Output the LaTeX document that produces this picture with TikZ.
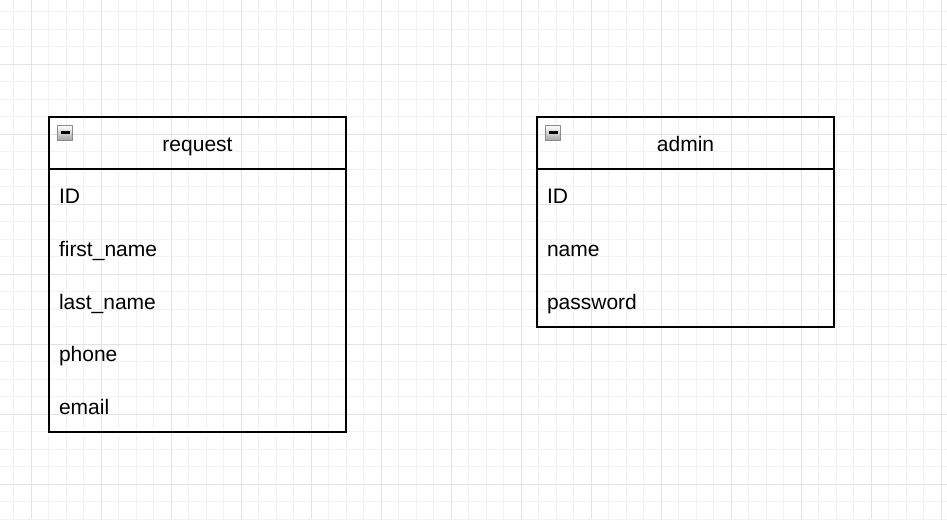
\documentclass[tikz,border=0pt]{standalone}
\usepackage{fontspec}
\setmainfont{Liberation Sans}
\usetikzlibrary{positioning}

\begin{document}
\begin{tikzpicture}[x=0.75pt,y=-0.75pt]
  \tikzset{minorline/.style={draw=black!5, line width=0.75pt},
    majorline/.style={draw=black!11, line width=0.75pt},
    tablefont/.style={font=\fontsize{15.75}{18}\selectfont, text height=14.75pt, text depth=2.15pt},
    tablehead/.style={tablefont, draw, line width=1.3pt, outer sep=0pt, inner sep=0pt, minimum width=222.75pt, minimum height=39.4pt},
    tablefield/.style={tablefont, outer sep=0pt, inner xsep=7.5pt, inner ysep=0pt, text width=207.75pt, minimum height=39.4pt, align=left},
    tablebox/.style={draw, line width=1.3pt},
    collapser/.style={draw=black!45, line width=0.75pt, top color=white, bottom color=black!35, minimum size=11.25pt, inner sep=0pt, anchor=north west,
      path picture={\draw[draw=black, line width=2pt] ([xshift=2.2pt]path picture bounding box.west) -- ([xshift=-2.2pt]path picture bounding box.east);}}}
  \useasboundingbox (0,0) rectangle (947,519);
  % grid
  \foreach \x in {13.8,31.3,...,947} \draw[minorline] (\x,0) -- (\x,519);
  \foreach \y in {11.5,29,...,519} \draw[minorline] (0,\y) -- (947,\y);
  \foreach \x in {31.3,101.3,...,947} \draw[majorline] (\x,0) -- (\x,519);
  \foreach \y in {64,134,...,519} \draw[majorline] (0,\y) -- (947,\y);
  % request table
  \node[tablehead] (req) at (197.5,143) {request};
  \node[tablefield, below=0pt of req] (reqid) {ID};
  \node[tablefield, below=0pt of reqid] (reqfirst) {first\_name};
  \node[tablefield, below=0pt of reqfirst] (reqlast) {last\_name};
  \node[tablefield, below=0pt of reqlast] (reqphone) {phone};
  \node[tablefield, below=0pt of reqphone] (reqemail) {email};
  \draw[tablebox] (req.north west) rectangle (reqemail.south east);
  \node[collapser] (reqicon) at ([xshift=6.2pt,yshift=-6pt]req.north west) {};
  % admin table
  \node[tablehead] (adm) at (685.5,143) {admin};
  \node[tablefield, below=0pt of adm] (admid) {ID};
  \node[tablefield, below=0pt of admid] (admname) {name};
  \node[tablefield, below=0pt of admname] (admpass) {password};
  \draw[tablebox] (adm.north west) rectangle (admpass.south east);
  \node[collapser] (admicon) at ([xshift=6.2pt,yshift=-6pt]adm.north west) {};
\end{tikzpicture}
\end{document}
